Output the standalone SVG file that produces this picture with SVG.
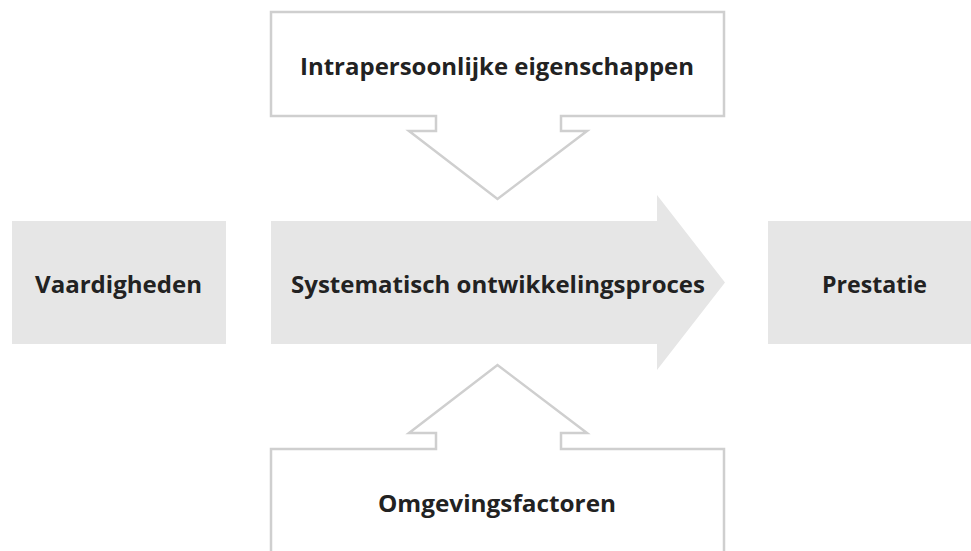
<svg xmlns="http://www.w3.org/2000/svg" width="971" height="551" viewBox="0 0 971 551">
<style>
.box{fill:#e6e6e6;stroke:none}
.outline{fill:#ffffff;stroke:#cfcfcf;stroke-width:2.5;stroke-linejoin:miter}
.lbl{font-family:"Open Sans","Liberation Sans",sans-serif;font-weight:bold;font-size:23px;fill:#222222}
</style>
<rect width="971" height="551" fill="#ffffff"/>
<g id="connectors">
<g id="top-arrow">
<path class="outline" d="M271,12 H724 V116 H561 V131 H587 L497.5,199 L409,131 H436 V116 H271 Z"/>
</g>
<g id="bottom-arrow">
<path class="outline" d="M271,556 V449 H436 V433 H409 L497.5,365 L587,433 H561 V449 H724 V556"/>
</g>
</g>
<g id="node-vaardigheden">
<rect class="box" x="12" y="221" width="214" height="123"/>
<text class="lbl" x="35" y="293" textLength="167" lengthAdjust="spacingAndGlyphs">Vaardigheden</text>
</g>
<g id="node-proces">
<path class="box" d="M271,221 H657 V195 L725,282.5 L657,370 V344 H271 Z"/>
<text class="lbl" x="291" y="293" textLength="414" lengthAdjust="spacingAndGlyphs">Systematisch ontwikkelingsproces</text>
</g>
<g id="node-prestatie">
<rect class="box" x="768" y="221" width="210" height="123"/>
<text class="lbl" x="822" y="293" textLength="105" lengthAdjust="spacingAndGlyphs">Prestatie</text>
</g>
<g id="node-intrapersoonlijk">
<text class="lbl" x="300" y="75" textLength="394" lengthAdjust="spacingAndGlyphs">Intrapersoonlijke eigenschappen</text>
</g>
<g id="node-omgeving">
<text class="lbl" x="378" y="512" textLength="238" lengthAdjust="spacingAndGlyphs">Omgevingsfactoren</text>
</g>
</svg>
